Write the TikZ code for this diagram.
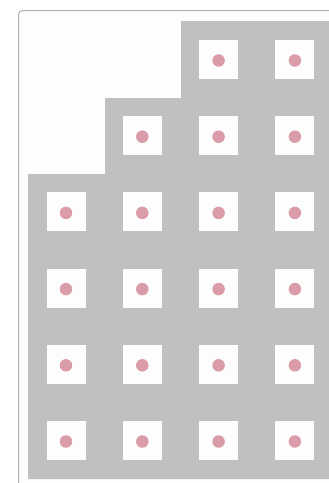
\documentclass[tikz,border=0pt]{standalone}
\definecolor{blockgray}{HTML}{BFC0C2}
\definecolor{dotpink}{HTML}{D99CA8}
\definecolor{framegray}{HTML}{B2B2B2}
\definecolor{paper}{HTML}{FDFDFD}
\begin{document}
\begin{tikzpicture}[x=1pt,y=-1pt,
  cell/.style={fill=paper,minimum size=39pt,inner sep=0pt,draw=none},
  pinkdot/.style={circle,fill=dotpink,minimum size=12.5pt,inner sep=0pt,draw=none}]
\useasboundingbox (0,0) rectangle (329,483);
\clip (0,0) rectangle (329,483);
\fill[white] (0,0) rectangle (329,483);
\draw[framegray, line width=1pt, rounded corners=4pt, fill=paper] (18.5,10.5) rectangle (345,500);
\fill[blockgray] (181,21) -| (340,479) -| (28,174) -| (105,98) -| (181,21) -- cycle;
\foreach \r/\cmin in {1/3,2/2,3/1,4/1,5/1,6/1}{
  \foreach \c in {\cmin,...,4}{
    \node[cell] (s\r\c) at ({66+76.3*(\c-1)},{59.5+76.2*(\r-1)}) {};
    \node[pinkdot] (d\r\c) at ([yshift=-1pt]s\r\c.center) {};
  }
}
\end{tikzpicture}
\end{document}
